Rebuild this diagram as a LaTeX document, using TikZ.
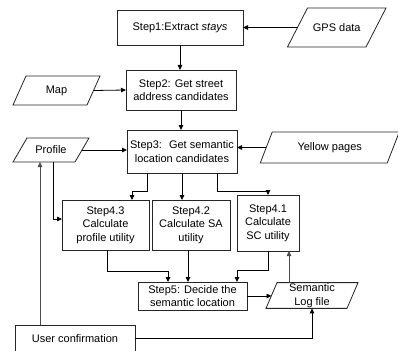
\documentclass[tikz,border=0pt]{standalone}
\usepackage{fontspec}
\setmainfont{Liberation Sans}
\usetikzlibrary{arrows.meta}

% outline of a slanted data node: #1 node name, #2 half of the horizontal lean
\newcommand\slantframe[2]{%
  \draw[frame] ([xshift=-#2]#1.south west) -- ([xshift=-#2]#1.south east)
    -- ([xshift=#2]#1.north east) -- ([xshift=#2]#1.north west) -- cycle;}

\begin{document}
\begin{tikzpicture}[x=1pt,y=-1pt,
  frame/.style={draw=black!85,line width=0.8pt},
  stepbox/.style={frame,rectangle,inner sep=1pt,outer sep=0pt,align=center,
    font=\fontsize{11}{13.5}\selectfont},
  datanode/.style={rectangle,inner sep=1pt,outer sep=0pt,align=center,
    font=\fontsize{11}{13.5}\selectfont},
  arr/.style={draw=black,line width=0.8pt,-{Triangle[length=5pt,width=4.5pt]}},
  line/.style={draw=black,line width=0.8pt}]
\useasboundingbox (0,0) rectangle (398,350);

% processing steps
\node[stepbox,minimum width=126pt,minimum height=35pt] (s1) at (180,27.5)
  {Step1:Extract \textit{stays}};
\node[stepbox,minimum width=110pt,minimum height=40pt] (s2) at (181,90)
  {Step2: Get street\\address candidates};
\node[stepbox,minimum width=110pt,minimum height=43pt] (s3) at (182,151.5)
  {Step3:~ Get semantic\\location candidates};
\node[stepbox,minimum width=87pt,minimum height=50pt] (s43) at (105.5,225)
  {Step4.3\\Calculate\\profile utility};
\node[stepbox,minimum width=78pt,minimum height=50pt] (s42) at (191,225)
  {Step4.2\\Calculate SA\\utility};
\node[stepbox,minimum width=62pt,minimum height=56pt] (s41) at (268,223)
  {Step4.1\\Calculate\\SC utility};
\node[stepbox,minimum width=109pt,minimum height=28pt] (s5) at (192.5,296)
  {Step5: Decide the\\semantic location};
\node[stepbox,minimum width=120pt,minimum height=27pt] (user) at (75,338.5)
  {User confirmation};

% data sources and stores
\node[datanode,minimum width=78.5pt,minimum height=39pt] (gps) at (336.75,27.5) {GPS data};
\slantframe{gps}{10pt}
\node[datanode,minimum width=74pt,minimum height=29pt] (map) at (56.5,90.5) {Map};
\slantframe{map}{6.5pt}
\node[datanode,minimum width=62pt,minimum height=24pt] (profile) at (51,150) {Profile};
\slantframe{profile}{7pt}
\node[datanode,minimum width=127pt,minimum height=31pt] (yellow) at (329.75,147.5) {Yellow pages};
\slantframe{yellow}{6pt}
\node[datanode,minimum width=81pt,minimum height=25pt] (log) at (312,295.5) {Semantic\\Log file};
\slantframe{log}{5.5pt}

% connectors
\draw[arr] (gps.west) -- (s1.east);
\draw[arr] (s1.south) -- (s1.south |- s2.north);
\draw[arr] (map.east) -- (s2.west);
\draw[arr] (s2.south) -- (s2.south |- s3.north);
\draw[arr] (profile.east) -- (profile.east -| s3.west);
\draw[arr] (yellow.west) -- (yellow.west -| s3.east);

\draw[arr] ([xshift=-35pt]s3.south) -- ++(0,18) -| ([xshift=26.5pt]s43.north);
\draw[arr] (s3.south) -- (s3.south |- s42.north);
\draw[arr] ([xshift=35pt]s3.south) -- ++(0,18) -| (s41.north);
\draw[arr] ([xshift=2pt]profile.south) |- ([yshift=6pt]s43.west);

\draw[arr] ([xshift=2pt]s43.south) -- ++(0,21) -| ([xshift=-24.5pt]s5.north);
\draw[arr] ([xshift=-3pt]s42.south) -- ([xshift=-3pt]s42.south |- s5.north);
\draw[arr] (s41.south) -- ++(0,19) -| ([xshift=44.5pt]s5.north);

\draw[arr] (s5.east) -- (s5.east -| log.west);
\draw[arr,draw=black!70] ([xshift=21pt]s41.south |- log.north) -- ([xshift=21pt]s41.south);
\draw[arr] (user.east) -| (log.south);
\draw[arr,draw=black!70] ([xshift=-35pt]user.north) -- ([xshift=-35pt]user.north |- profile.south);
\end{tikzpicture}
\end{document}
